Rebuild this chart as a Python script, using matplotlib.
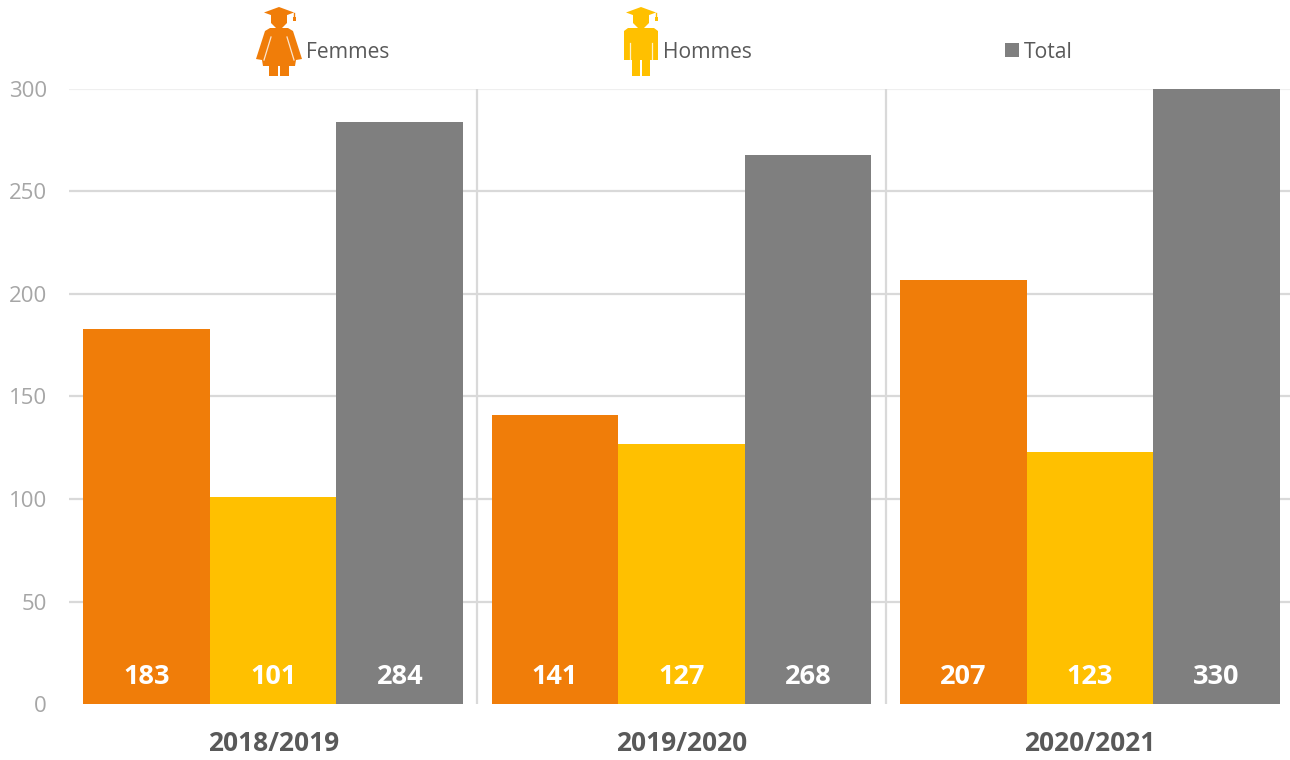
import numpy as np
import matplotlib
matplotlib.use('Agg')
import matplotlib.pyplot as plt
from matplotlib.patches import Polygon, Rectangle

plt.rcParams['font.family'] = ['Open Sans', 'DejaVu Sans']

years = ['2018/2019', '2019/2020', '2020/2021']
femmes = [183, 141, 207]
hommes = [101, 127, 123]
total = [284, 268, 330]
yticks = [0, 50, 100, 150, 200, 250, 300]

orange = '#F07D09'
yellow = '#FFC000'
grey = '#7F7F7F'

W, H = 1290, 760
fig = plt.figure(figsize=(W/100, H/100), dpi=100)
# axes in pixel position
left, right, top, bottom = 69, 1290, 89, 704
ax = fig.add_axes([left/W, 1-bottom/H, (right-left)/W, (bottom-top)/H])

x = np.arange(3)
w = 0.31
ax.bar(x-w, femmes, w, color=orange, zorder=3)
ax.bar(x, hommes, w, color=yellow, zorder=3)
ax.bar(x+w, total, w, color=grey, zorder=3)
ax.set_xlim(-0.5, 2.49)
ax.set_ylim(0, 300)

for i in range(3):
    for off, v in zip([-w, 0, w], [femmes[i], hommes[i], total[i]]):
        ax.text(x[i]+off, 13, str(v), color='white', fontsize=19.5, fontweight='bold',
                ha='center', va='center', zorder=4)

ax.set_yticks(yticks)
ax.set_xticks(x)
ax.set_xticklabels(years, fontsize=19, fontweight='bold', color='#595959')
ax.tick_params(axis='x', length=0, pad=19)
ax.tick_params(axis='y', length=0, labelsize=16, labelcolor='#A6A6A6', pad=16)
ax.grid(axis='y', color='#D9D9D9', lw=1.6, zorder=0)
ax.get_ygridlines()[0].set_visible(False)
ax.get_ygridlines()[-1].set_color('#EFEFEF')
ax.set_axisbelow(True)
for s in ax.spines.values():
    s.set_visible(False)
for xv in [0.5, 1.5]:
    ax.axvline(xv, color='#D9D9D9', lw=1.6, zorder=1)

# legend drawn on a pixel overlay
ov = fig.add_axes([0, 0, 1, 1])
ov.set_xlim(0, W)
ov.set_ylim(H, 0)
ov.axis('off')

def cap(cx, col):
    # mortar board, head and tassel
    ov.add_patch(Polygon([[cx-15, 12.5], [cx, 7], [cx+15, 12.5], [cx, 18]], color=col, lw=0))
    ov.add_patch(Polygon([[cx-8, 15], [cx+8, 15], [cx+8, 23], [cx+3, 28], [cx-3, 28], [cx-8, 23]],
                         color=col, lw=0))
    ov.plot([cx+15, cx+15], [13, 19], color=col, lw=1)
    ov.add_patch(Rectangle((cx+14, 17), 2.5, 4, color=col, lw=0))

def femme(cx, col):
    cap(cx, col)
    ov.add_patch(Polygon([[cx-9, 28], [cx+9, 28], [cx+14, 31], [cx+23, 59], [cx+17, 60],
                          [cx+16, 66], [cx-16, 66], [cx-17, 60], [cx-23, 59], [cx-14, 31]],
                         color=col, lw=0))
    ov.add_patch(Rectangle((cx-10, 66), 9, 10, color=col, lw=0))
    ov.add_patch(Rectangle((cx+1, 66), 9, 10, color=col, lw=0))
    # slits between arms and dress
    ov.plot([cx-8, cx-15], [37, 60], color='white', lw=0.9, alpha=0.8)
    ov.plot([cx+8, cx+15], [37, 60], color='white', lw=0.9, alpha=0.8)

def homme(cx, col):
    cap(cx, col)
    ov.add_patch(Polygon([[cx-13, 28], [cx+13, 28], [cx+17, 31], [cx+17, 60], [cx+9, 60],
                          [cx+9, 76], [cx+1, 76], [cx+1, 60], [cx-1, 60], [cx-1, 76],
                          [cx-9, 76], [cx-9, 60], [cx-17, 60], [cx-17, 31]],
                         color=col, lw=0))
    ov.plot([cx-11, cx-11], [43, 60], color='white', lw=0.9, alpha=0.8)
    ov.plot([cx+11, cx+11], [43, 60], color='white', lw=0.9, alpha=0.8)

femme(279, orange)
homme(641, yellow)
ov.add_patch(Rectangle((1005, 43), 14, 14, color=grey, lw=0))
for tx, s in [(306, 'Femmes'), (663, 'Hommes'), (1024, 'Total')]:
    ov.text(tx, 53, s, fontsize=15.2, color='#595959', va='center', ha='left')

fig.savefig('out.png', dpi=100)
